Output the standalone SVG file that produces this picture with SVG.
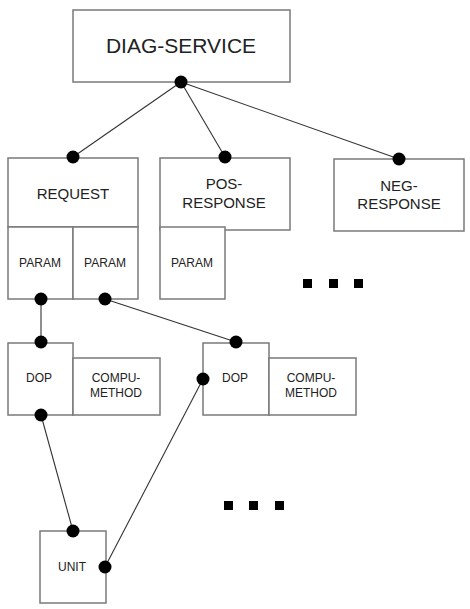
<svg xmlns="http://www.w3.org/2000/svg" width="470" height="609" viewBox="0 0 470 609">
<style>
.box{fill:#fff;stroke:#7a7a7a;stroke-width:1.5}
.t{font-family:"Liberation Sans",Arial,sans-serif;fill:#222;text-anchor:middle}
.big{font-size:21px}
.mid{font-size:15px}
.sm{font-size:12px}
.ln{stroke:#333;stroke-width:1.1;fill:none}
.dot{fill:#000}
.sq{fill:#000}
</style>
<rect width="470" height="609" fill="#fff"/>
<g id="connectors">
<line class="ln" x1="181" y1="82" x2="73" y2="157"/>
<line class="ln" x1="181" y1="82" x2="225" y2="157"/>
<line class="ln" x1="181" y1="82" x2="399" y2="159"/>
<line class="ln" x1="41" y1="299" x2="41" y2="342"/>
<line class="ln" x1="105" y1="299" x2="236" y2="342"/>
<line class="ln" x1="41" y1="415" x2="73" y2="531"/>
<line class="ln" x1="105" y1="567" x2="203" y2="379"/>
</g>
<g id="diag-service">
<rect class="box" x="73" y="10" width="217" height="72"/>
<text class="t big" x="181" y="53">DIAG-SERVICE</text>
</g>
<g id="request">
<rect class="box" x="8" y="158" width="130" height="69"/>
<text class="t mid" x="73" y="199">REQUEST</text>
</g>
<g id="request-param-1">
<rect class="box" x="8" y="227" width="65" height="72"/>
<text class="t sm" x="40" y="267">PARAM</text>
</g>
<g id="request-param-2">
<rect class="box" x="73" y="227" width="65" height="72"/>
<text class="t sm" x="105" y="267">PARAM</text>
</g>
<g id="pos-response">
<rect class="box" x="160" y="158" width="130" height="72"/>
<text class="t mid" x="224" y="189">POS-</text>
<text class="t mid" x="224" y="208">RESPONSE</text>
</g>
<g id="pos-param">
<rect class="box" x="160" y="227" width="65" height="72"/>
<text class="t sm" x="192" y="267">PARAM</text>
</g>
<g id="neg-response">
<rect class="box" x="334" y="159" width="130" height="72"/>
<text class="t mid" x="399" y="191">NEG-</text>
<text class="t mid" x="399" y="209">RESPONSE</text>
</g>
<g id="dop-1">
<rect class="box" x="8" y="343" width="65" height="72"/>
<text class="t sm" x="39" y="382">DOP</text>
</g>
<g id="compu-method-1">
<rect class="box" x="73" y="358" width="87" height="57"/>
<text class="t sm" x="116" y="382">COMPU-</text>
<text class="t sm" x="116" y="397">METHOD</text>
</g>
<g id="dop-2">
<rect class="box" x="203" y="343" width="66" height="72"/>
<text class="t sm" x="235" y="382">DOP</text>
</g>
<g id="compu-method-2">
<rect class="box" x="269" y="358" width="87" height="57"/>
<text class="t sm" x="311" y="382">COMPU-</text>
<text class="t sm" x="311" y="397">METHOD</text>
</g>
<g id="unit">
<rect class="box" x="40" y="531" width="66" height="72"/>
<text class="t sm" x="72" y="571">UNIT</text>
</g>
<g id="dots">
<circle class="dot" cx="181" cy="82" r="6.5"/>
<circle class="dot" cx="73" cy="157" r="6.5"/>
<circle class="dot" cx="225" cy="157" r="6.5"/>
<circle class="dot" cx="399" cy="159" r="6.5"/>
<circle class="dot" cx="41" cy="299" r="6.5"/>
<circle class="dot" cx="105" cy="299" r="6.5"/>
<circle class="dot" cx="41" cy="342" r="6.5"/>
<circle class="dot" cx="236" cy="342" r="6.5"/>
<circle class="dot" cx="41" cy="415" r="6.5"/>
<circle class="dot" cx="203" cy="379" r="6.5"/>
<circle class="dot" cx="73" cy="531" r="6.5"/>
<circle class="dot" cx="105" cy="567" r="6.5"/>
</g>
<g id="ellipsis-1">
<rect class="sq" x="303" y="279" width="9" height="9"/>
<rect class="sq" x="329" y="279" width="9" height="9"/>
<rect class="sq" x="354" y="279" width="9" height="9"/>
</g>
<g id="ellipsis-2">
<rect class="sq" x="224" y="501" width="9" height="9"/>
<rect class="sq" x="249" y="501" width="9" height="9"/>
<rect class="sq" x="275" y="501" width="9" height="9"/>
</g>
</svg>
